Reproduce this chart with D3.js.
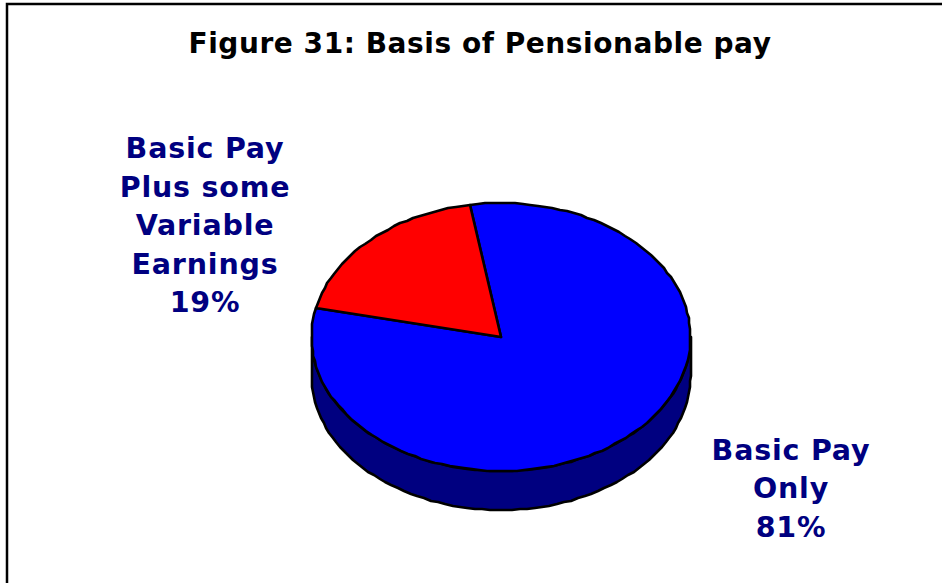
<!DOCTYPE html>
<html>
<head>
<meta charset="utf-8">
<script src="https://cdnjs.cloudflare.com/ajax/libs/d3/7.8.5/d3.min.js"></script>
<style>
 html, body { margin: 0; padding: 0; background: #fff; overflow: hidden; }
 svg { display: block; }
 text { font-family: "DejaVu Sans", sans-serif; font-weight: bold; text-anchor: middle; }
</style>
</head>
<body>
<div id="chart"></div>
<script>
var chartTitle = 'Figure 31: Basis of Pensionable pay';
var categories = ['Basic Pay Only', 'Basic Pay Plus some Variable Earnings'];
var shares = [81, 19];
var sliceColors = ['#0000ff', '#ff0000'];
var labelLines = [['Basic Pay', 'Only', '81%'], ['Basic Pay', 'Plus some', 'Variable', 'Earnings', '19%']];

var width = 942, height = 583;
var depth = 39;
var startAngle = -9.3 * Math.PI / 180;

var svg = d3.select('#chart').append('svg').attr('width', width).attr('height', height);

// page frame, only top and left show in the crop
svg.append('path')
 .attr('d', 'M7,' + height + 'V4H' + width)
 .attr('fill', 'none').attr('stroke', '#000').attr('stroke-width', 2.5);

svg.append('text').attr('x', 480).attr('y', 53)
 .style('font-size', '28px').style('letter-spacing', '0.55px').attr('fill', '#000').text(chartTitle);

// tilted pie: unit circle is squashed through these two scales
var px = d3.scaleLinear().domain([-1, 1]).range([311.5, 690.5]);
var py = d3.scaleLinear().domain([-1, 1]).range([471, 203]);

// rim points snapped to whole pixels, the original outline is slightly jagged
function rimPoints(a0, a1, shift)
{
 var n = Math.max(2, Math.ceil(Math.abs(a1 - a0) / 0.04));
 return d3.range(n + 1).map(function(i)
 {
  var a = a0 + (a1 - a0) * i / n;
  return [Math.round(px(Math.sin(a))), Math.round(py(Math.cos(a))) + shift];
 });
}

var line = d3.line();
var pie = d3.pie().sort(null).startAngle(startAngle).endAngle(startAngle + 2 * Math.PI);
var arcs = pie(shares);

// side wall, front half of the rim
var front = rimPoints(Math.PI / 2, 3 * Math.PI / 2, 0);
var frontLow = rimPoints(3 * Math.PI / 2, Math.PI / 2, depth);
svg.append('path')
 .attr('d', line(front.concat(frontLow)) + 'Z')
 .attr('fill', '#000080').attr('stroke', '#000').attr('stroke-width', 2.6).attr('stroke-linejoin', 'round');

// top face slices
svg.selectAll('path.slice').data(arcs).enter().append('path')
 .attr('class', 'slice')
 .attr('d', function(d)
 {
  return line([[px(0), py(0)]].concat(rimPoints(d.startAngle, d.endAngle, 0))) + 'Z';
 })
 .attr('fill', function(d, i) { return sliceColors[i]; })
 .attr('stroke', '#000').attr('stroke-width', 2.6).attr('stroke-linejoin', 'round');

function drawLabel(lines, x, firstBaseline, step)
{
 svg.append('text').attr('fill', '#000080').style('font-size', '28.5px').style('letter-spacing', '0.8px')
  .selectAll('tspan').data(lines).enter().append('tspan')
  .attr('x', x)
  .attr('y', function(d, i) { return firstBaseline + i * step; })
  .text(function(d) { return d; });
}
drawLabel(labelLines[0], 791, 460, 38.3);
drawLabel(labelLines[1], 205, 158, 38.5);
</script>
</body>
</html>
